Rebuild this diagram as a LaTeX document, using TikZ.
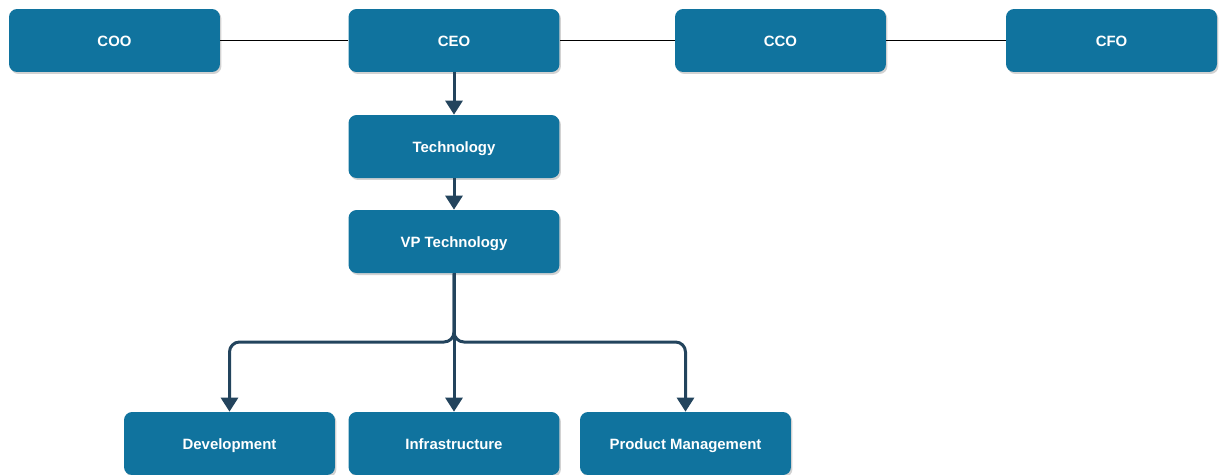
\documentclass[tikz,border=0pt]{standalone}
\usepackage{fontspec}
\setmainfont{Liberation Sans}
\usetikzlibrary{arrows.meta,shadows}

\definecolor{boxblue}{HTML}{10739E}
\definecolor{linkblue}{HTML}{23445D}

\tikzset{
  unit/.style={draw=none, fill=boxblue, rounded corners=8*0.02cm,
    minimum width=4.22cm, minimum height=1.26cm, text=white,
    font=\fontsize{8.5}{10}\selectfont\bfseries,
    text height=1.6ex, text depth=0.3ex,
    drop shadow={shadow xshift=0.03cm, shadow yshift=-0.04cm, fill=black!35, opacity=0.5}},
  peer/.style={draw=black, line width=0.6pt},
  link/.style={draw=linkblue, line width=0.06cm,
    -{Triangle[width=0.34cm,length=0.28cm]}}
}

\begin{document}
\begin{tikzpicture}[x=0.02cm, y=-0.02cm]
  \useasboundingbox (0,0) rectangle (1226,474);

  \node[unit] (coo) at (114.5,40.5) {COO};
  \node[unit] (ceo) at (454,40.5) {CEO};
  \node[unit] (cco) at (780.5,40.5) {CCO};
  \node[unit] (cfo) at (1111.5,40.5) {CFO};
  \node[unit] (tech) at (454,146.5) {Technology};
  \node[unit] (vp) at (454,241.5) {VP Technology};
  \node[unit] (dev) at (229.5,443.5) {Development};
  \node[unit] (infra) at (454,443.5) {Infrastructure};
  \node[unit] (pm) at (685.5,443.5) {Product Management};
  \coordinate (split) at (454,342);

  % top row
  \draw[peer] (coo) -- (ceo);
  \draw[peer] (ceo) -- (cco);
  \draw[peer] (cco) -- (cfo);

  % chain down
  \draw[link] (ceo) -- (tech);
  \draw[link] (tech) -- (vp);

  % split to teams
  \draw[link, rounded corners=0.2cm] (vp.south) -- (split) -| (dev.north);
  \draw[link] (vp.south) -- (infra.north);
  \draw[link, rounded corners=0.2cm] (vp.south) -- (split) -| (pm.north);
\end{tikzpicture}
\end{document}
